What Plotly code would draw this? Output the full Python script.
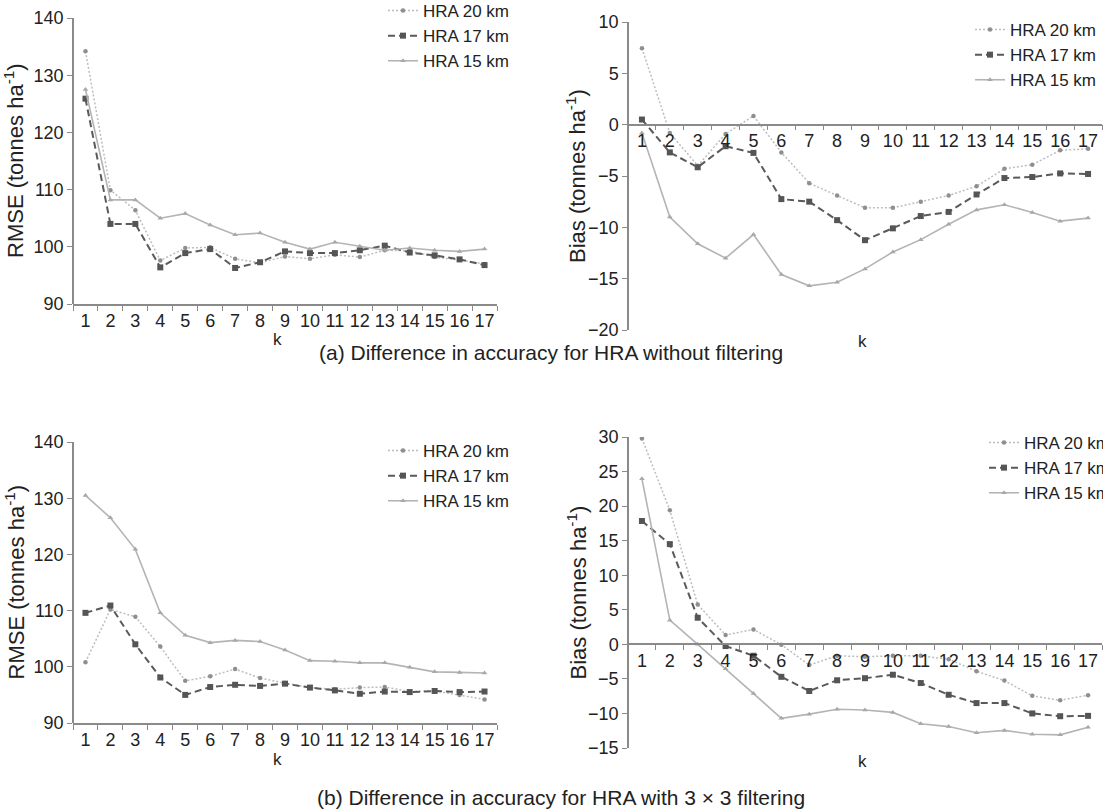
import plotly.graph_objects as go

W, H = 1130, 812   # slightly wider than the 1103 window so the clipped legend text is cut by the window edge
k = list(range(1, 18))

# (a) without filtering - RMSE
rmse_a_20 = [134.2, 109.9, 106.4, 97.6, 99.8, 99.9, 97.9, 97.2, 98.3, 97.9, 98.6, 98.2, 99.4, 99.3, 98.2, 97.7, 97.0]
rmse_a_17 = [125.9, 104.0, 104.0, 96.4, 98.9, 99.6, 96.3, 97.3, 99.2, 98.9, 98.9, 99.4, 100.2, 99.0, 98.5, 97.8, 96.8]
rmse_a_15 = [127.5, 108.2, 108.2, 105.0, 105.8, 103.8, 102.1, 102.4, 100.8, 99.6, 100.8, 100.1, 99.4, 99.8, 99.4, 99.2, 99.6]
# (a) without filtering - Bias
bias_a_20 = [7.45, -0.8, -4.0, -0.9, 0.85, -2.7, -5.7, -6.9, -8.1, -8.1, -7.5, -6.9, -6.0, -4.3, -3.9, -2.5, -2.35]
bias_a_17 = [0.5, -2.7, -4.15, -2.1, -2.75, -7.25, -7.5, -9.3, -11.25, -10.1, -8.9, -8.5, -6.8, -5.2, -5.1, -4.75, -4.8]
bias_a_15 = [-0.8, -9.0, -11.6, -13.0, -10.7, -14.6, -15.7, -15.35, -14.05, -12.4, -11.2, -9.7, -8.3, -7.8, -8.55, -9.4, -9.1]
# (b) with 3x3 filtering - RMSE
rmse_b_20 = [100.8, 110.2, 108.9, 103.6, 97.5, 98.3, 99.6, 98.0, 97.1, 96.3, 96.0, 96.3, 96.4, 95.6, 95.7, 95.0, 94.2]
rmse_b_17 = [109.6, 110.9, 104.0, 98.1, 95.0, 96.4, 96.8, 96.6, 97.0, 96.3, 95.8, 95.2, 95.6, 95.5, 95.7, 95.5, 95.6]
rmse_b_15 = [130.5, 126.5, 120.9, 109.6, 105.6, 104.3, 104.7, 104.5, 103.0, 101.1, 101.0, 100.7, 100.7, 99.9, 99.1, 99.0, 98.9]
# (b) with 3x3 filtering - Bias
bias_b_20 = [29.8, 19.4, 5.75, 1.35, 2.15, -0.05, -3.0, -1.65, -1.8, -1.65, -1.65, -2.15, -3.9, -5.25, -7.45, -8.1, -7.35]
bias_b_17 = [17.85, 14.5, 3.85, -0.25, -1.65, -4.7, -6.75, -5.2, -4.9, -4.4, -5.6, -7.3, -8.5, -8.5, -10.0, -10.4, -10.35]
bias_b_15 = [23.95, 3.5, 0.0, -3.55, -7.1, -10.7, -10.1, -9.4, -9.5, -9.85, -11.5, -11.9, -12.8, -12.45, -13.0, -13.1, -12.0]

series_names = ["HRA 20 km", "HRA 17 km", "HRA 15 km"]
caption_a = "(a) Difference in accuracy for HRA without filtering"
caption_b = "(b) Difference in accuracy for HRA with 3 \u00d7 3 filtering"
rmse_title = "RMSE (tonnes ha<sup>-1</sup>)"
bias_title = "Bias (tonnes ha<sup>-1</sup>)"

FONT = "Liberation Sans, Arial, sans-serif"
TXT = "#222222"
AX = "#8a8a8a"
TICK_SIZE = 18
LEG_SIZE = 17

styles = [
    dict(line=dict(color="#bdbdbd", width=1.5, dash="2px,2px"),
         marker=dict(symbol="circle", size=4.5, color="#8f8f8f")),
    dict(line=dict(color="#5a5a5a", width=2, dash="7px,4px"),
         marker=dict(symbol="square", size=6, color="#555555")),
    dict(line=dict(color="#b4b4b4", width=1.6, dash="solid"),
         marker=dict(symbol="triangle-up", size=5, color="#a8a8a8")),
]

def px_x(p):
    return p / W

def px_y(p):
    return 1 - p / H

panels = [
    dict(data=[rmse_a_20, rmse_a_17, rmse_a_15], x=(73, 497), y=(18, 304), yr=(140, 90),
         dtick=10, title=rmse_title, zero=False, legend_xy=(383, -7), k_xy=(277, 339), title_x=14),
    dict(data=[bias_a_20, bias_a_17, bias_a_15], x=(628, 1102), y=(22, 330), yr=(10, -20),
         dtick=5, title=bias_title, zero=True, legend_xy=(970, 12), k_xy=(862, 341), title_x=576),
    dict(data=[rmse_b_20, rmse_b_17, rmse_b_15], x=(73, 497), y=(442, 723), yr=(140, 90),
         dtick=10, title=rmse_title, zero=False, legend_xy=(383, 433), k_xy=(277, 759), title_x=14),
    dict(data=[bias_b_20, bias_b_17, bias_b_15], x=(628, 1102), y=(437, 748), yr=(30, -15),
         dtick=5, title=bias_title, zero=True, legend_xy=(984, 425), k_xy=(862, 761), title_x=576),
]

fig = go.Figure()
layout = dict(
    width=W, height=H, autosize=False,
    margin=dict(l=0, r=0, t=0, b=0, autoexpand=False),
    paper_bgcolor="white", plot_bgcolor="white",
    font=dict(family=FONT, size=TICK_SIZE, color=TXT),
    annotations=[],
)

for i, p in enumerate(panels):
    n = i + 1
    xa = "x" if n == 1 else f"x{n}"
    ya = "y" if n == 1 else f"y{n}"
    lg = "legend" if n == 1 else f"legend{n}"
    for j, (vals, name) in enumerate(zip(p["data"], series_names)):
        fig.add_trace(go.Scatter(
            x=k, y=vals, name=name, mode="lines+markers",
            xaxis=xa, yaxis=ya, legend=lg, **styles[j]))
    ytop, ybot = p["y"]
    vtop, vbot = p["yr"]
    xkey = "xaxis" if n == 1 else f"xaxis{n}"
    ykey = "yaxis" if n == 1 else f"yaxis{n}"
    xdict = dict(
        domain=[px_x(p["x"][0]), px_x(p["x"][1])],
        range=[0.5, 17.5], tickmode="array", tickvals=k, ticktext=[str(v) for v in k],
        ticks="", showgrid=False, zeroline=False,
        showline=True, linecolor=AX, linewidth=1.5,
        tickfont=dict(size=TICK_SIZE, color=TXT),
        minor=dict(tickmode="linear", tick0=0.5, dtick=1, ticks="outside",
                   ticklen=5, tickcolor=AX, tickwidth=1.2, showgrid=False),
    )
    if p["zero"]:
        zero_px = ytop + (vtop - 0) / (vtop - vbot) * (ybot - ytop)
        xdict.update(anchor="free", position=px_y(zero_px))
    else:
        xdict.update(anchor=ya)
    layout[xkey] = xdict
    layout[ykey] = dict(
        domain=[px_y(ybot), px_y(ytop)],
        range=[vbot, vtop], dtick=p["dtick"], tick0=0,
        ticks="outside", ticklen=5, tickcolor=AX, tickwidth=1.2,
        showgrid=False, zeroline=False,
        showline=True, linecolor=AX, linewidth=1.5,
        tickfont=dict(size=TICK_SIZE, color=TXT),
        anchor="free", position=px_x(p["x"][0]),
    )
    lx, ly = p["legend_xy"]
    layout[lg] = dict(
        x=px_x(lx), y=px_y(ly), xanchor="left", yanchor="top",
        bgcolor="rgba(0,0,0,0)", font=dict(size=LEG_SIZE, color=TXT),
        tracegroupgap=0, itemwidth=30, borderwidth=0,
    )
    layout["annotations"].append(dict(
        text=p["title"], x=px_x(p["title_x"]), y=px_y((ytop + ybot) / 2),
        xref="paper", yref="paper", showarrow=False, textangle=-90,
        font=dict(size=22, color=TXT), xanchor="center", yanchor="middle"))
    layout["annotations"].append(dict(
        text="k", x=px_x(p["k_xy"][0]), y=px_y(p["k_xy"][1]),
        xref="paper", yref="paper", showarrow=False,
        font=dict(size=17, color=TXT), xanchor="center", yanchor="middle"))

layout["annotations"].append(dict(
    text=caption_a, x=px_x(551), y=px_y(352), xref="paper", yref="paper", showarrow=False,
    font=dict(size=21, color=TXT), xanchor="center", yanchor="middle"))
layout["annotations"].append(dict(
    text=caption_b, x=px_x(561), y=px_y(797), xref="paper", yref="paper", showarrow=False,
    font=dict(size=21, color=TXT), xanchor="center", yanchor="middle"))

fig.update_layout(**layout)
fig.write_html("out.html", config={"displayModeBar": False},
               post_script="document.body.style.margin='0';document.body.style.overflow='hidden';")
